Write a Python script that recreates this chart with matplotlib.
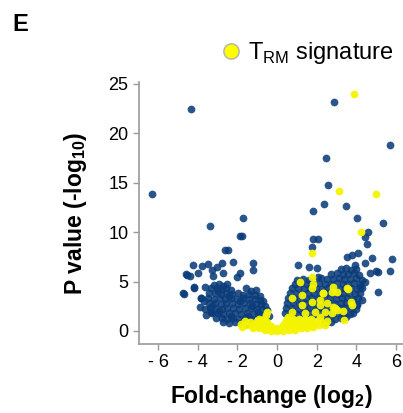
import matplotlib
matplotlib.use("Agg")
import matplotlib.pyplot as plt
from matplotlib.lines import Line2D

plt.rcParams["font.family"] = ["Liberation Sans", "DejaVu Sans"]
plt.rcParams["mathtext.fontset"] = "custom"
plt.rcParams["mathtext.rm"] = "Liberation Sans"
plt.rcParams["mathtext.bf"] = "Liberation Sans:bold"

# (fold-change log2, -log10 p)
blue_outliers = [
    (-6.29, 13.9), (-4.32, 22.5), (2.89, 23.2), (5.70, 18.8), (2.47, 17.5),
    (2.55, 14.8), (2.37, 12.9), (1.83, 12.1), (3.48, 12.6), (4.05, 11.4),
    (5.33, 10.95), (-3.38, 10.6), (-1.70, 11.4), (-1.85, 9.6), (-1.75, 9.6),
    (-2.60, 8.2), (-2.45, 8.2), (1.83, 9.3), (2.05, 9.3), (1.75, 8.5),
    (4.57, 10.05), (4.44, 9.55), (4.52, 8.8), (5.82, 7.3), (5.70, 6.1),
    (5.11, 3.9), (4.97, 6.1), (5.11, 6.0), (4.77, 7.35), (4.44, 6.85),
    (4.10, 7.86), (3.77, 7.69), (3.51, 7.52), (3.93, 6.68), (4.69, 5.84),
    (4.44, 5.0), (4.19, 4.48), (4.27, 3.14), (4.02, 2.63), (3.85, 1.79),
    (1.07, 6.68), (2.00, 6.34), (1.61, 6.44), (2.08, 5.5),
    (-4.22, 6.68), (-4.60, 5.74), (-4.39, 5.57), (-4.00, 5.84), (-3.80, 6.58),
    (-3.46, 6.78), (-3.29, 6.17), (-3.04, 6.51), (-2.79, 6.85), (-3.21, 5.57),
    (-2.74, 5.84), (-2.20, 6.95), (-1.20, 6.92), (-1.20, 6.17), (-2.03, 5.5),
    (-1.87, 5.84), (-4.72, 3.81), (-4.19, 4.38), (-3.85, 3.31), (-3.88, 2.46),
    (-3.34, 1.95), (-3.63, 4.48), (-4.70, 3.75), (-3.83, 3.34), (-4.17, 4.4),
    (-4.55, 5.67), (-3.33, 1.9),
]

blue_left = [
    (-3.20, 4.7), (-2.95, 4.8), (-2.70, 4.6), (-2.50, 4.75),
    (-3.35, 4.3), (-3.05, 4.35), (-2.80, 4.2), (-2.55, 4.3), (-2.30, 4.1),
    (-1.55, 4.3), (-1.30, 4.0), (-1.05, 4.1),
    (-3.45, 3.8), (-3.15, 3.85), (-2.85, 3.75), (-2.55, 3.8), (-2.25, 3.7),
    (-1.95, 3.85), (-1.70, 3.65), (-1.40, 3.75), (-1.10, 3.6), (-0.85, 3.5),
    (-3.50, 3.3), (-3.20, 3.25), (-2.90, 3.35), (-2.60, 3.2), (-2.30, 3.3),
    (-2.00, 3.25), (-1.70, 3.3), (-1.40, 3.2), (-1.10, 3.25), (-0.85, 3.1),
    (-0.70, 3.0),
    (-3.45, 2.8), (-3.15, 2.85), (-2.85, 2.75), (-2.55, 2.8), (-2.25, 2.85),
    (-1.95, 2.75), (-1.65, 2.8), (-1.35, 2.85), (-1.05, 2.75), (-0.80, 2.7),
    (-0.60, 2.5),
    (-3.40, 2.3), (-3.10, 2.35), (-2.80, 2.25), (-2.50, 2.3), (-2.20, 2.35),
    (-1.90, 2.25), (-1.60, 2.3), (-1.30, 2.35), (-1.00, 2.25), (-0.75, 2.2),
    (-0.50, 2.1),
    (-3.30, 1.8), (-3.00, 1.85), (-2.70, 1.75), (-2.40, 1.8), (-2.10, 1.85),
    (-1.80, 1.75), (-1.50, 1.8), (-1.20, 1.7), (-0.95, 1.75), (-0.70, 1.6),
    (-0.40, 1.5),
    (-3.10, 1.3), (-2.80, 1.35), (-2.50, 1.25), (-2.20, 1.3), (-1.90, 1.25),
    (-1.60, 1.3), (-1.30, 1.2),
    (-2.70, 0.95), (-2.40, 0.85), (-2.10, 0.9), (-1.80, 0.8), (-1.55, 0.75),
    (-3.70, 3.0), (-3.65, 2.2), (-3.60, 1.6),
    (-3.00, 4.0), (-2.40, 3.55), (-1.85, 3.05), (-1.25, 2.55), (-2.95, 2.05),
    (-2.30, 1.55), (-1.45, 1.5), (-3.30, 2.55), (-0.95, 1.95),
]

blue_right = [
    (3.20, 6.3), (3.50, 6.4), (3.75, 6.2), (4.00, 6.3),
    (2.70, 5.8), (3.00, 5.85), (3.30, 5.75), (3.60, 5.8), (3.90, 5.9), (4.15, 5.7),
    (1.00, 5.2), (1.30, 5.3), (1.60, 5.2), (2.20, 5.35), (2.50, 5.3), (2.80, 5.25),
    (3.10, 5.35), (3.40, 5.3), (3.70, 5.25), (4.00, 5.35), (4.30, 5.2),
    (0.90, 4.8), (1.20, 4.85), (1.50, 4.75), (1.80, 4.8), (2.10, 4.85), (2.40, 4.75),
    (2.70, 4.8), (3.00, 4.85), (3.30, 4.75), (3.60, 4.8), (3.90, 4.85), (4.20, 4.75),
    (0.75, 4.3), (1.05, 4.35), (1.35, 4.25), (1.65, 4.3), (1.95, 4.35), (2.25, 4.25),
    (2.55, 4.3), (2.85, 4.35), (3.15, 4.25), (3.45, 4.3), (3.75, 4.35), (4.05, 4.25),
    (4.30, 4.3),
    (0.65, 3.8), (0.95, 3.85), (1.25, 3.75), (1.55, 3.8), (1.85, 3.85), (2.15, 3.75),
    (2.45, 3.8), (2.75, 3.85), (3.05, 3.75), (3.35, 3.8), (3.65, 3.85), (3.95, 3.75),
    (4.20, 3.8),
    (0.55, 3.3), (0.85, 3.35), (1.15, 3.25), (1.45, 3.3), (1.75, 3.35), (2.05, 3.25),
    (2.35, 3.3), (2.65, 3.35), (2.95, 3.25), (3.25, 3.3), (3.55, 3.35), (3.85, 3.25),
    (4.10, 3.3),
    (0.50, 2.8), (0.80, 2.85), (1.10, 2.75), (1.40, 2.8), (1.70, 2.85), (2.00, 2.75),
    (2.30, 2.8), (2.60, 2.85), (2.90, 2.75), (3.20, 2.8), (3.50, 2.85), (3.80, 2.75),
    (4.05, 2.7),
    (0.45, 2.3), (0.75, 2.35), (1.05, 2.25), (1.35, 2.3), (1.65, 2.35), (1.95, 2.25),
    (2.25, 2.3), (2.55, 2.35), (2.85, 2.25), (3.15, 2.3), (3.45, 2.35), (3.75, 2.25),
    (4.00, 2.2),
    (0.40, 1.8), (0.70, 1.85), (1.00, 1.75), (1.30, 1.8), (1.60, 1.85), (1.90, 1.75),
    (2.20, 1.8), (2.50, 1.85), (2.80, 1.75), (3.10, 1.8), (3.40, 1.85), (3.70, 1.75),
    (2.30, 1.3), (2.60, 1.35), (2.90, 1.25), (3.20, 1.3), (3.50, 1.4),
    (2.40, 0.9), (2.70, 0.95),
]

trm_points = [
    (3.88, 24.0), (3.14, 14.2), (5.01, 13.9), (4.24, 10.0), (1.78, 7.9),
    (1.75, 5.5), (1.83, 4.8), (1.16, 5.0), (1.75, 4.3), (2.34, 3.8),
    (2.84, 4.5), (3.01, 3.9), (3.60, 4.2), (3.77, 2.6), (3.34, 2.06),
    (3.36, 1.15), (2.84, 2.46), (2.50, 2.8), (2.17, 2.63), (1.75, 2.97),
    (1.24, 3.64), (0.74, 3.31), (1.24, 2.63), (1.41, 1.79), (1.92, 1.95),
    (2.17, 1.45), (2.42, 1.95), (2.76, 1.79), (3.01, 2.12), (1.07, 1.11),
    (1.75, 0.94), (2.30, 3.81), (2.76, 3.9), (2.17, 3.14), (3.55, 4.32),
    (3.71, 2.94), (2.92, 2.3),
    (-0.60, 0.05), (-0.30, 0.02), (0.00, 0.00), (0.30, 0.02), (0.60, 0.05),
    (0.90, 0.12),
    (-1.20, 0.3), (-0.90, 0.28), (-0.60, 0.3), (-0.30, 0.25), (0.00, 0.3),
    (0.30, 0.28), (0.60, 0.3), (0.90, 0.35), (1.20, 0.3), (1.50, 0.35), (1.80, 0.4),
    (-1.50, 0.6), (-1.20, 0.65), (-0.90, 0.6), (-0.60, 0.65), (-0.30, 0.55),
    (0.30, 0.6), (0.60, 0.65), (0.90, 0.6), (1.20, 0.65), (1.50, 0.6),
    (1.80, 0.65), (2.10, 0.6),
    (-1.35, 0.95), (-1.05, 0.9), (-0.75, 0.95), (-0.50, 0.9), (0.40, 0.9),
    (0.70, 0.95), (1.00, 0.9), (1.30, 0.95), (1.60, 0.9), (1.90, 0.95), (2.20, 0.9),
    (-0.90, 1.2), (-0.65, 1.25), (0.50, 1.2), (0.80, 1.25), (1.10, 1.2),
    (1.40, 1.25), (1.70, 1.2),
    (-0.55, 1.6), (-0.52, 1.95), (0.57, 1.45), (0.74, 1.95),
    (-1.80, 0.75), (-1.60, 1.0), (2.40, 0.65), (2.50, 1.05), (-1.75, 0.45),
]

x_ticks = [-6, -4, -2, 0, 2, 4, 6]
x_tick_labels = ["- 6", "- 4", "- 2", "0", "2", "4", "6"]
y_ticks = [0, 5, 10, 15, 20, 25]

BLUE = "#0b3d7a"
YELLOW = "#f4f400"
GREY = "#9a9a9a"

fig = plt.figure(figsize=(4.03, 4.13), dpi=100)
ax = fig.add_axes([139 / 403, 69 / 413, 264 / 403, 262 / 413])

blue = blue_outliers + blue_left + blue_right
ax.scatter([p[0] for p in blue], [p[1] for p in blue], s=31, c=BLUE,
           alpha=0.88, linewidths=0, zorder=2)
ax.scatter([p[0] for p in trm_points], [p[1] for p in trm_points], s=31,
           c=YELLOW, alpha=0.95, linewidths=0, zorder=3)

ax.set_xlim(-6.96, 6.35)
ax.set_ylim(-1.32, 25.2)
ax.set_xticks(x_ticks)
ax.set_xticklabels(x_tick_labels)
ax.set_yticks(y_ticks)
ax.tick_params(labelsize=13, color=GREY, length=4, width=1)
for side in ["top", "right"]:
    ax.spines[side].set_visible(False)
for side in ["left", "bottom"]:
    ax.spines[side].set_color(GREY)
    ax.spines[side].set_linewidth(1.2)

ax.set_xlabel(r"Fold-change (log$_{\mathbf{2}}$)", fontsize=16.5,
              fontweight="bold", labelpad=8)
ax.set_ylabel(r"P value (-log$_{\mathbf{10}}$)", fontsize=16.5,
              fontweight="bold", labelpad=14)

fig.text(0.03, 0.925, "E", fontsize=17, fontweight="bold")

handle = Line2D([], [], marker="o", linestyle="none", markersize=11,
                markerfacecolor="#ffff00", markeredgecolor="#b0b0b0")
fig.legend([handle], [r"T$_{\mathrm{RM}}$ signature"], loc="center left",
           bbox_to_anchor=(0.527, 0.872), frameon=False, fontsize=17,
           handlelength=0.6, handletextpad=0.4, borderpad=0)

fig.savefig("out.png", dpi=100)
